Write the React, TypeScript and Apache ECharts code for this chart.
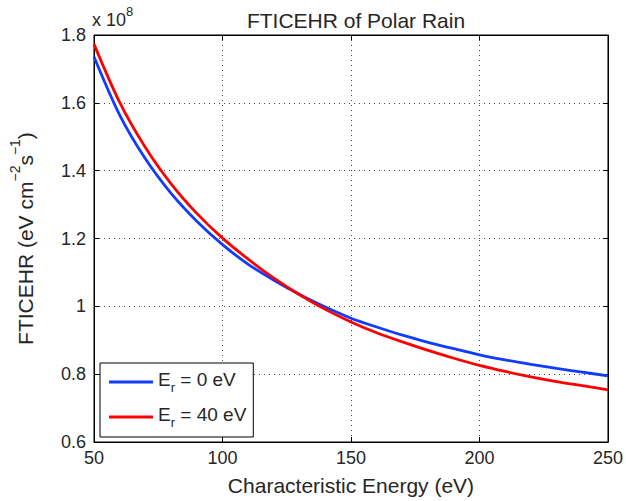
import React, { useEffect, useRef } from "react";
import * as echarts from "echarts";

const energies = [50, 60, 70, 80, 90, 100, 110, 120, 130, 140, 150, 160, 170, 180, 190, 200, 210, 220, 230, 240, 250];
const er0 = [1.736, 1.564, 1.435, 1.333, 1.251, 1.182, 1.124, 1.077, 1.035, 0.998, 0.965, 0.939, 0.915, 0.894, 0.875, 0.857, 0.842, 0.829, 0.817, 0.806, 0.795];
const er40 = [1.773, 1.601, 1.468, 1.361, 1.274, 1.201, 1.139, 1.083, 1.034, 0.991, 0.954, 0.922, 0.895, 0.87, 0.847, 0.826, 0.808, 0.792, 0.778, 0.766, 0.754];
const yTickValues = [0.6, 0.8, 1, 1.2, 1.4, 1.6, 1.8];

const FONT = "'Liberation Sans', Arial, Helvetica, sans-serif";
const TXT = "#262626";

export default function App() {
  const ref = useRef<HTMLDivElement>(null);
  useEffect(() => {
    if (!ref.current) return;
    const chart = echarts.init(ref.current, undefined, { renderer: "svg" });
    const gridLine = { show: true, lineStyle: { color: "#444", type: [1, 4] as any, width: 1 } };
    const tick = { show: true, inside: true, length: 5, lineStyle: { color: "#000" } };
    chart.setOption({
      animation: false,
      backgroundColor: "#fff",
      textStyle: { fontFamily: FONT },
      title: {
        text: "FTICEHR of Polar Rain",
        left: 351,
        top: 5,
        textAlign: "center",
        textStyle: { fontFamily: FONT, fontSize: 21, fontWeight: "normal", color: TXT },
      },
      graphic: [
        {
          type: "text",
          left: 92,
          top: 5,
          style: {
            text: "{a|x 10}{s|8}",
            rich: {
              a: { fontFamily: FONT, fontSize: 18, fill: TXT, verticalAlign: "bottom", lineHeight: 24 },
              s: { fontFamily: FONT, fontSize: 13, fill: TXT, verticalAlign: "top", lineHeight: 24 },
            },
          },
        },
      ],
      grid: { left: 92, right: 16, top: 35, bottom: 58, show: true, borderColor: "#000", borderWidth: 1, backgroundColor: "#fff" },
      legend: {
        left: 100,
        top: 363,
        orient: "vertical",
        backgroundColor: "#fff",
        borderColor: "#000",
        borderWidth: 1,
        borderRadius: 0,
        padding: [7, 7, 8, 9],
        icon: "rect",
        itemWidth: 44,
        itemHeight: 3,
        itemGap: 11,
        data: ["E_r = 0 eV", "E_r = 40 eV"],
        formatter: (name: string) => {
          const rest = name.replace("E_r", "");
          return "{a|E}{s|r}{a|" + rest + "}";
        },
        textStyle: {
          rich: {
            a: { fontFamily: FONT, fontSize: 19, color: TXT, lineHeight: 24, verticalAlign: "top" },
            s: { fontFamily: FONT, fontSize: 13, color: TXT, lineHeight: 24, verticalAlign: "bottom" },
          },
        },
      },
      xAxis: [
        {
          type: "value",
          min: 50,
          max: 250,
          interval: 50,
          name: "Characteristic Energy (eV)",
          nameLocation: "middle",
          nameGap: 33,
          nameTextStyle: { fontFamily: FONT, fontSize: 21, color: TXT },
          axisLine: { show: true, lineStyle: { color: "#000" } },
          axisTick: tick,
          axisLabel: { fontFamily: FONT, fontSize: 18, color: TXT, margin: 7 },
          splitLine: gridLine,
        },
        {
          type: "value",
          position: "top",
          min: 50,
          max: 250,
          interval: 50,
          axisLine: { show: true, lineStyle: { color: "#000" } },
          axisTick: tick,
          axisLabel: { show: false },
          splitLine: { show: false },
        },
      ],
      yAxis: [
        {
          type: "value",
          min: 0.6,
          max: 1.8,
          interval: 0.2,
          name: "{a|FTICEHR (eV cm}{s|−2}{a|s}{s|−1}{a|)}",
          nameLocation: "middle",
          nameGap: 58,
          nameTextStyle: {
            rich: {
              a: { fontFamily: FONT, fontSize: 21, color: TXT, lineHeight: 28, verticalAlign: "bottom" },
              s: { fontFamily: FONT, fontSize: 14, color: TXT, lineHeight: 28, verticalAlign: "top" },
            },
          },
          axisLine: { show: true, lineStyle: { color: "#000" } },
          axisTick: tick,
          axisLabel: {
            fontFamily: FONT,
            fontSize: 18,
            color: TXT,
            margin: 8,
            formatter: (v: number) => {
              const r = Math.round(v * 10) / 10;
              return yTickValues.includes(r) ? String(r) : "";
            },
          },
          splitLine: gridLine,
        },
        {
          type: "value",
          position: "right",
          min: 0.6,
          max: 1.8,
          interval: 0.2,
          axisLine: { show: true, lineStyle: { color: "#000" } },
          axisTick: tick,
          axisLabel: { show: false },
          splitLine: { show: false },
        },
      ],
      series: [
        {
          name: "E_r = 0 eV",
          type: "line",
          symbol: "none",
          smooth: 0.3,
          data: energies.map((e, i) => [e, er0[i]]),
          lineStyle: { color: "#0f3cff", width: 2.8 },
          itemStyle: { color: "#0f3cff" },
        },
        {
          name: "E_r = 40 eV",
          type: "line",
          symbol: "none",
          smooth: 0.3,
          data: energies.map((e, i) => [e, er40[i]]),
          lineStyle: { color: "#ff0000", width: 2.8 },
          itemStyle: { color: "#ff0000" },
        },
      ],
    });
    return () => chart.dispose();
  }, []);
  return <div ref={ref} style={{ width: 626, height: 501, position: "absolute", left: 0, top: 0 }} />;
}
